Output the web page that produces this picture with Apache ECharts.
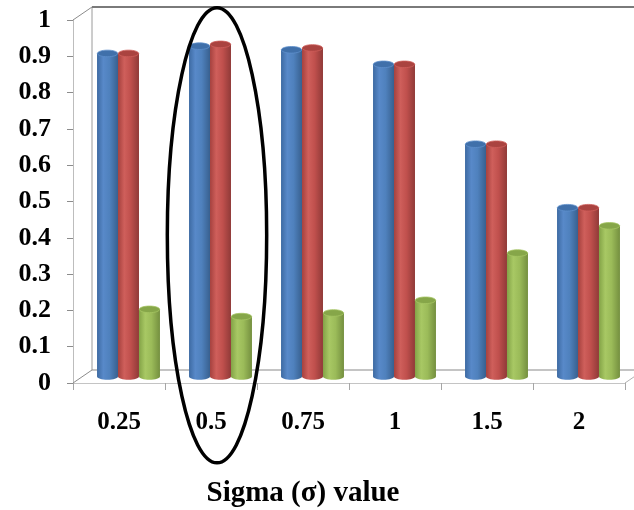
<!DOCTYPE html>
<html>
<head>
<meta charset="utf-8">
<script src="https://cdn.jsdelivr.net/npm/echarts@6/dist/echarts.min.js"></script>
<style>
  html, body { margin: 0; padding: 0; background: #ffffff; }
  #chart { width: 634px; height: 510px; }
</style>
</head>
<body>
<div id="chart"></div>
<script>
// Sigma values on the category axis
const categories = ['0.25', '0.5', '0.75', '1', '1.5', '2'];

// Three result series per sigma value
const blueValues  = [0.89, 0.91, 0.90, 0.86, 0.64, 0.465];
const redValues   = [0.89, 0.915, 0.905, 0.86, 0.64, 0.465];
const greenValues = [0.185, 0.165, 0.175, 0.21, 0.34, 0.415];

// Value axis range
const yMin = 0, yMax = 1, yStep = 0.1;

// Category picked out by the ring annotation
const highlightCategory = '0.5';

const axisTitle = 'Sigma (σ) value';

// Perspective offset from the front plane to the back wall (px)
const DEPTH = [19, -13];

const FONT = "'Liberation Serif', 'Times New Roman', serif";

const palettes = [
  { body: ['#3d6aa2', '#5889c9', '#4f81bd', '#38608f'], cap: '#4070aa', rim: '#5e8fcb' },
  { body: ['#a5413e', '#cf5f5b', '#c0504d', '#903a38'], cap: '#aa4340', rim: '#cf5e5a' },
  { body: ['#83a347', '#a8c864', '#9bbb59', '#748f3f'], cap: '#86a649', rim: '#a6c563' }
];

// Cylinder drawn at mid depth of the 3D floor, via the grid's own scales
function cylinder(pal, slot) {
  return function (params, api) {
    const idx = api.value(0);
    const v = api.value(1);
    const base = api.coord([idx, 0]);
    const top = api.coord([idx, v]);
    const band = api.size([1, 0])[0];
    const w = band * 0.228;
    const cx = base[0] + DEPTH[0] / 2 + (slot - 1) * w;
    const yb = base[1] + DEPTH[1] / 2;
    const yt = top[1] + DEPTH[1] / 2;
    const rx = w / 2, ry = 3.3;
    const grad = {
      type: 'linear', x: 0, y: 0, x2: 1, y2: 0,
      colorStops: [
        { offset: 0, color: pal.body[0] },
        { offset: 0.3, color: pal.body[1] },
        { offset: 0.6, color: pal.body[2] },
        { offset: 1, color: pal.body[3] }
      ]
    };
    return {
      type: 'group',
      children: [
        { type: 'ellipse', shape: { cx: cx, cy: yb, rx: rx, ry: ry }, style: { fill: grad } },
        { type: 'rect', shape: { x: cx - rx, y: yt, width: w, height: yb - yt }, style: { fill: grad } },
        { type: 'ellipse', shape: { cx: cx, cy: yt, rx: rx - 0.3, ry: ry },
          style: { fill: pal.cap, stroke: pal.rim, lineWidth: 0.8 } }
      ]
    };
  };
}

function seriesData(values) {
  return values.map(function (v, i) { return [i, v]; });
}

const chart = echarts.init(document.getElementById('chart'), null, { renderer: 'canvas' });

chart.setOption({
  animation: false,
  backgroundColor: '#ffffff',
  grid: { left: 73, right: 9, top: 20, bottom: 127, containLabel: false },
  xAxis: {
    type: 'category',
    data: categories,
    axisLine: { show: true, lineStyle: { color: '#c4c4c4', width: 1 } },
    axisTick: { show: true, length: 7, lineStyle: { color: '#a6a6a6' } },
    axisLabel: { margin: 27, fontSize: 25, fontWeight: 'bold', fontFamily: FONT, color: '#000000' },
    splitLine: { show: false }
  },
  yAxis: {
    type: 'value',
    min: yMin, max: yMax, interval: yStep,
    axisLine: { show: true, lineStyle: { color: '#bdbdbd', width: 1 } },
    axisTick: { show: true, length: 6, lineStyle: { color: '#8c8c8c' } },
    axisLabel: { margin: 22, fontSize: 26, fontWeight: 'bold', fontFamily: FONT, color: '#000000',
      padding: [4, 0, 0, 0] },
    splitLine: { show: false }
  },
  series: [
    { type: 'custom', name: 'A', renderItem: cylinder(palettes[0], 0), data: seriesData(blueValues), z: 3 },
    { type: 'custom', name: 'B', renderItem: cylinder(palettes[1], 1), data: seriesData(redValues), z: 3 },
    { type: 'custom', name: 'C', renderItem: cylinder(palettes[2], 2), data: seriesData(greenValues), z: 3 }
  ]
});

// 3D frame (side wall, back wall, floor) and annotations from axis pixels
(function () {
  const c0 = chart.convertToPixel({ xAxisIndex: 0 }, categories[0]);
  const c1 = chart.convertToPixel({ xAxisIndex: 0 }, categories[1]);
  const band = c1 - c0;
  const x0 = c0 - band / 2;
  const x1 = chart.convertToPixel({ xAxisIndex: 0 }, categories[categories.length - 1]) + band / 2;
  const yTop = chart.convertToPixel({ yAxisIndex: 0 }, yMax);
  const yBase = chart.convertToPixel({ yAxisIndex: 0 }, yMin);
  const dx = DEPTH[0], dy = DEPTH[1];

  function seg(a, b, color, width) {
    return { type: 'line', z: 1, silent: true,
      shape: { x1: a[0], y1: a[1], x2: b[0], y2: b[1] },
      style: { stroke: color, lineWidth: width || 1 } };
  }

  const hx = chart.convertToPixel({ xAxisIndex: 0 }, highlightCategory) + 6;
  const ringTop = chart.convertToPixel({ yAxisIndex: 0 }, 1.034);
  const ringBottom = chart.convertToPixel({ yAxisIndex: 0 }, -0.22);

  chart.setOption({
    graphic: [
      seg([x0, yTop], [x0 + dx, yTop + dy], '#8c8c8c'),
      seg([x0 + dx, yTop + dy], [x0 + dx, yBase + dy], '#9a9a9a'),
      seg([x0, yBase], [x0 + dx, yBase + dy], '#8c8c8c'),
      seg([x0 + dx, yTop + dy], [x1 + dx, yTop + dy], '#7a7a7a', 2),
      seg([x0 + dx, yBase + dy], [x1 + dx, yBase + dy], '#8a8a8a', 1.2),
      seg([x1, yBase], [x1 + dx, yBase + dy], '#b0b0b0'),
      {
        type: 'ellipse', z: 10, silent: true,
        shape: { cx: hx, cy: (ringTop + ringBottom) / 2, rx: band * 0.54, ry: (ringBottom - ringTop) / 2 },
        style: { fill: null, stroke: '#000000', lineWidth: 3.5 }
      },
      {
        type: 'text', z: 10, silent: true,
        x: 303, y: 494,
        style: { text: axisTitle, fontSize: 29, fontWeight: 'bold', fontFamily: FONT,
          fill: '#000000', align: 'center', verticalAlign: 'middle' }
      }
    ]
  });
})();
</script>
</body>
</html>
